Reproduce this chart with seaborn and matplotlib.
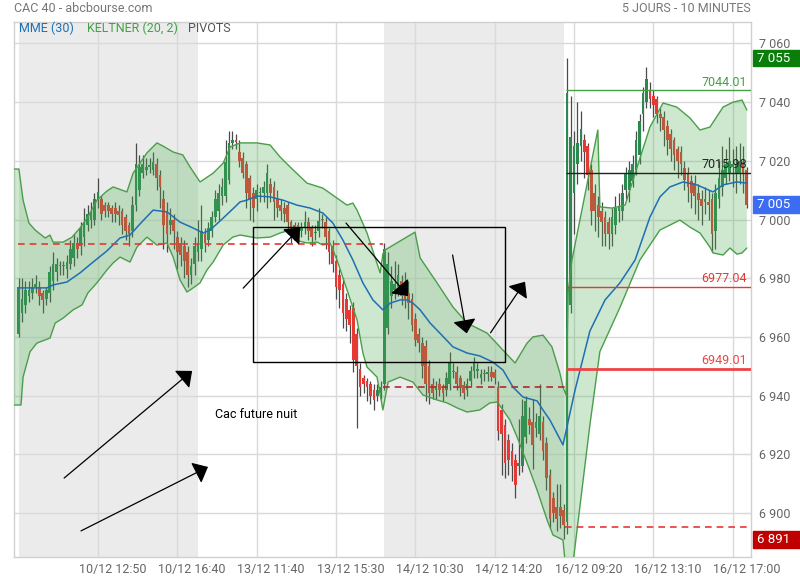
import numpy as np
import matplotlib
matplotlib.use("Agg")
import matplotlib.pyplot as plt
import matplotlib.transforms as mtransforms
from matplotlib.patches import Rectangle
from matplotlib.ticker import FuncFormatter
import seaborn as sns

# ======================
# DATA : CAC 40, 10 minute bars, 53 bars per session
# ======================
opens = [
    6961, 6968, 6971, 6974, 6975, 6977, 6977, 6975, 6973, 6975, 6979, 6982, 6984, 6984, 6983, 6985, 6987, 6992,
    6991, 6994, 6998, 7000, 7000, 7007, 7007, 7005, 7005, 7004, 7004, 7003, 7003, 7001, 6998, 6996, 7005, 7010,
    7016, 7017, 7018, 7017, 7019, 7015, 7007, 7003, 6998, 7000, 6994, 6992, 6991, 6989, 6981, 6985, 6989,
    6990, 6995, 6993, 6996, 7001, 7003, 7008, 7008, 7013.5, 7026, 7027, 7023, 7021, 7019, 7014, 7009, 7007, 7009,
    7009, 7009, 7012, 7011, 7007, 7005, 7004, 7005, 6999, 6998, 6998, 6996, 6997, 6999, 6997, 6995.5, 6996, 7000,
    6999, 6996, 6991, 6986, 6981, 6978, 6973, 6969, 6970, 6961, 6949, 6946, 6945, 6944, 6942, 6940, 6941,
    6944, 6963, 6974, 6976, 6977, 6979, 6976, 6975, 6973, 6966, 6961, 6958, 6957, 6950, 6944, 6942, 6944, 6943,
    6942, 6944, 6948, 6948, 6946, 6943.5, 6942, 6945, 6948.5, 6948.5, 6946, 6947.4, 6947.5, 6948, 6948, 6943, 6935, 6930,
    6925, 6921, 6918, 6916, 6916, 6926, 6932, 6931, 6929, 6927, 6931, 6924, 6913, 6905, 6902, 6902, 6901,
    6897, 6971, 7009, 7019, 7025, 7027, 7025, 7017, 7009, 7005, 7003, 7001, 6999, 6995, 6998, 7003, 7003, 7010,
    7010, 7013, 7017, 7022, 7036, 7040, 7044, 7042, 7041, 7036, 7035, 7032, 7029, 7027, 7024, 7023, 7017.5, 7016,
    7013, 7012.5, 7009, 7007, 7006, 7006, 7007, 6996, 7007, 7011, 7014, 7016, 7018, 7016, 7016, 7019, 7017,
]
highs = [
    6980, 6980, 6979, 6979, 6980, 6981, 6979, 6976, 6977, 6984, 6989, 6987, 6986, 6986, 6988, 6993, 6995, 6994,
    6999, 7004, 7005, 7006, 7009, 7014, 7008, 7006, 7006, 7005, 7006, 7005, 7004, 7002, 6999, 7008, 7026, 7022,
    7022, 7021, 7021, 7023, 7021, 7017, 7010, 7006, 7004, 7002, 6996, 6994, 6993, 6991, 6987, 6994, 7000,
    7005, 6997, 6999, 7003, 7010, 7012, 7014, 7027, 7030, 7030, 7029, 7027, 7023, 7020, 7015, 7011, 7012, 7011,
    7013, 7019, 7014, 7013, 7010, 7007, 7006, 7006, 7000, 6999, 6999, 6999, 7003, 7001, 6998, 6998, 7004, 7002,
    7001, 6997, 6993, 6988, 6983, 6980, 6975, 6971, 6972, 6963, 6951, 6947, 6946, 6945, 6944, 6944, 6945,
    6992, 6989, 6984, 6986, 6985, 6981, 6982, 6979, 6975, 6968, 6963, 6960, 6959, 6952, 6946, 6945, 6946, 6944,
    6948, 6955, 6951, 6950, 6947, 6945, 6946, 6950, 6953, 6951, 6949, 6949, 6950, 6950, 6949, 6945, 6937, 6932,
    6927, 6924, 6920, 6932, 6939, 6940, 6936, 6939, 6934, 6944, 6933, 6926, 6915, 6907, 6910, 6910, 6903,
    7055, 7042, 7030, 7040, 7037, 7029, 7026, 7019, 7012, 7008, 7006, 7003, 7001, 7004, 7008, 7009, 7012, 7018,
    7020, 7022, 7030, 7036, 7045, 7052, 7047, 7044, 7042, 7038, 7037, 7034, 7031, 7028, 7025, 7025, 7020, 7018,
    7015, 7015, 7012, 7010, 7011, 7010, 7009, 7012, 7020, 7025, 7024, 7028, 7024, 7025, 7026, 7025, 7018,
]
lows = [
    6960, 6965, 6968, 6972, 6973, 6975, 6971, 6968, 6971, 6972, 6976, 6979, 6981, 6981, 6980, 6983, 6984, 6987,
    6988, 6991, 6996, 6997, 6998, 7004, 7000, 7001, 7001, 6999, 6999, 6998, 6995, 6993, 6991, 6994, 7003, 7008,
    7014, 7015, 7016, 7015, 7010, 7004, 6990, 6989, 6995, 6990, 6983, 6984, 6980, 6977, 6978, 6981, 6986,
    6986, 6989, 6991, 6994, 6999, 7000, 7005, 7006, 7012, 7024, 7024, 7018, 7014, 7004, 7000, 6999, 7003, 7006,
    7006, 7004, 7006, 7000, 7001, 7000, 6999, 6995, 6992, 6993, 6992, 6994, 6995, 6993, 6991, 6993, 6994, 6997,
    6990, 6985, 6982, 6973, 6970, 6963, 6962, 6958, 6948, 6929, 6940, 6941, 6938, 6937, 6935, 6938, 6939,
    6942, 6961, 6970, 6973, 6974, 6971, 6970, 6966, 6962, 6957, 6955, 6946, 6938, 6937, 6939, 6939, 6940, 6938,
    6940, 6942, 6946, 6942, 6940, 6939, 6940, 6943, 6946, 6946, 6944, 6945, 6945, 6945, 6944, 6925, 6913, 6912,
    6913, 6911, 6905, 6913, 6914, 6924, 6927, 6915, 6926, 6925, 6918, 6908, 6895, 6897, 6894, 6895, 6891,
    6893, 6968, 6995, 7012, 7020, 7014, 7010, 6998, 6996, 6994, 6991, 6991, 6990, 6991, 6995, 6999, 7000, 7007,
    7006, 7011, 7015, 7019, 7030, 7038, 7038, 7035, 7033, 7030, 7025, 7022, 7020, 7017, 7014, 7015, 7010, 7006,
    7004, 7002, 7000, 6998, 7002, 7000, 6989, 6990, 7004, 7008, 7012, 7013, 7011, 7009, 7012, 7009, 7004,
]
closes = [
    6977, 6973, 6976, 6976, 6977, 6978, 6974, 6972.5, 6976, 6982, 6985, 6985, 6984.3, 6984.5, 6985.5, 6990, 6992, 6990,
    6997, 6999, 7002, 7002.5, 7007, 7009.5, 7002, 7003, 7003, 7002, 7002, 7001.5, 6998, 6996, 6995, 7005, 7019, 7018,
    7019, 7018, 7018.5, 7019.5, 7014, 7011, 6998, 6995, 7000, 6996, 6989, 6988, 6986, 6981, 6984, 6991, 6992,
    6996, 6992, 6997, 7001, 7007, 7009, 7011, 7019.5, 7026, 7027, 7026.5, 7020, 7016, 7009, 7006.5, 7004, 7010, 7009.5,
    7011, 7016, 7009, 7006, 7004, 7003, 7002, 6999, 6996, 6996, 6995, 6997.5, 6999, 6996, 6994, 6995.7, 6999.5, 6999.7,
    6994, 6989, 6985, 6977, 6976, 6968, 6966, 6964, 6952, 6950, 6943, 6944, 6943, 6940, 6938.5, 6942, 6943,
    6990, 6985, 6979, 6978, 6981, 6974, 6973, 6971.5, 6964, 6959, 6958, 6950, 6944, 6941, 6941, 6943, 6942, 6941,
    6946, 6951, 6948.5, 6944, 6942.5, 6941, 6944, 6948.5, 6951, 6948.8, 6947.5, 6947.2, 6947.7, 6946.5, 6946, 6928, 6927, 6917,
    6918, 6916, 6909.5, 6917, 6933, 6938, 6930, 6923, 6931, 6933, 6921, 6912, 6898, 6900, 6898, 6899, 6896,
    7043, 7028, 7025, 7026, 7031, 7023, 7015, 7003, 7003, 7001, 6999, 6995, 6995, 7001, 7004, 7004.5, 7009, 7016,
    7017, 7019, 7027, 7033.5, 7043, 7048, 7041, 7039, 7036, 7034.5, 7030.5, 7027, 7024, 7022, 7020, 7019, 7013.5, 7011,
    7009, 7008, 7006.5, 7004.5, 7007, 7005, 6995, 7009, 7014, 7017, 7019, 7020, 7019, 7019, 7020, 7016, 7005,
]

# MME (30) (bar index, price)
ema_x = [-0.2, 8.2, 10.0, 14.0, 17.8, 21.6, 25.6, 29.4, 32.3, 35.2, 39.0, 43.0, 46.8, 50.6, 53.5, 55.5, 58.4, 62.1,
         64.2, 66.2, 69.1, 72.9, 76.6, 80.7, 84.5, 88.2, 91.1, 94.0, 96.9, 99.8, 102.7, 105.6, 107.7, 110.6, 112.6,
         114.3, 116.4, 119.3, 122.1, 125.9, 130.0, 133.7, 137.5, 140.4, 143.3, 146.2, 150.3, 152.0, 154.0, 157.8,
         161.3, 165.6, 170.0, 174.3, 178.7, 183.0, 185.9, 188.8, 192.6, 196.6, 201.3, 204.2, 208.2, 211.1]
ema_v = [6976.7, 6976.7, 6977.7, 6978.7, 6981.8, 6985.5, 6989.3, 6993.7, 6994.7, 6998.5, 7003.2, 7002.6, 6999.1,
         6997.1, 6995.4, 6996.4, 6999.5, 7003.6, 7006.0, 7006.6, 7008.0, 7007.7, 7006.6, 7004.9, 7003.9, 7002.2,
         6998.8, 6993.0, 6986.2, 6978.4, 6972.6, 6969.2, 6971.5, 6972.6, 6972.6, 6971.5, 6969.2, 6964.7, 6961.3,
         6956.6, 6954.5, 6953.5, 6951.4, 6948.7, 6942.9, 6939.5, 6938.2, 6935.1, 6931.7, 6923.2, 6941.9, 6962.0,
         6972.6, 6978.4, 6986.2, 7000.8, 7007.7, 7011.1, 7012.8, 7011.8, 7009.4, 7011.8, 7012.8, 7012.4]

# KELTNER (20, 2) upper and lower bands
kup_x = [-1.3, 0.1, 1.3, 3.0, 4.8, 7.7, 9.1, 10.0, 12.9, 15.5, 17.8, 20.1, 22.7, 25.6, 27.4, 31.4, 33.2, 37.2, 40.1,
         41.9, 44.8, 47.6, 49.7, 52.6, 56.4, 59.3, 61.3, 64.2, 69.1, 72.9, 75.8, 78.7, 83.6, 88.2, 92.3, 95.2, 96.9,
         98.1, 101.0, 104.8, 105.6, 106.2, 114.9, 116.4, 121.3, 125.9, 130.0, 135.8, 140.4, 143.9, 147.4, 149.1,
         152.0, 154.6, 156.9, 157.8, 158.7, 159.3, 160.4, 167.9, 168.5, 172.0, 175.8, 179.3, 183.0, 186.8, 190.8,
         194.6, 197.5, 200.4, 204.2, 207.1, 209.7, 211.1]
kup_v = [7017.2, 7017.2, 7006.6, 6998.8, 6996.4, 6993.7, 6994.7, 6992.3, 6992.3, 6994.0, 6997.1, 7000.9, 7006.6,
         7009.7, 7011.1, 7009.4, 7015.8, 7022.7, 7026.1, 7025.0, 7023.0, 7022.0, 7017.9, 7012.8, 7015.8, 7019.2,
         7024.7, 7026.1, 7026.1, 7025.4, 7021.3, 7017.9, 7012.4, 7010.7, 7007.3, 7004.9, 7005.6, 7003.2, 6995.4,
         6981.8, 6988.3, 6989.6, 6995.7, 6986.9, 6978.4, 6970.2, 6964.7, 6961.3, 6955.5, 6951.1, 6957.9, 6960.0,
         6960.6, 6956.6, 6947.7, 6942.9, 6940.2, 6975.0, 6986.2, 7030.5, 7004.3, 7003.9, 7004.9, 7017.9, 7031.5,
         7039.7, 7038.3, 7034.6, 7030.5, 7031.5, 7038.3, 7040.0, 7040.7, 7037.3]
klo_x = [-1.3, 0.7, 1.3, 3.3, 5.3, 9.1, 10.6, 12.9, 15.8, 18.4, 20.1, 22.7, 25.6, 27.4, 29.4, 32.3, 34.3, 37.2, 40.1,
         43.0, 44.8, 46.8, 48.8, 50.6, 52.6, 54.6, 56.4, 59.3, 62.1, 64.2, 69.1, 72.9, 75.8, 78.7, 80.1, 83.6, 86.5,
         88.2, 90.3, 92.3, 95.2, 98.1, 99.8, 101.0, 103.9, 105.6, 107.1, 110.6, 114.3, 117.2, 121.3, 124.2, 127.1,
         130.0, 133.7, 136.6, 138.7, 140.4, 142.4, 144.5, 147.4, 150.3, 153.2, 154.9, 157.8, 158.7, 160.4, 165.6,
         168.5, 174.3, 180.1, 185.9, 191.7, 194.6, 197.5, 200.4, 201.3, 204.2, 206.2, 208.2, 209.7, 211.1]
klo_v = [6936.8, 6936.8, 6946.3, 6954.9, 6957.9, 6959.6, 6964.7, 6966.4, 6969.2, 6970.9, 6975.0, 6978.4, 6982.8,
         6985.2, 6987.2, 6985.5, 6990.6, 6994.0, 6991.3, 6992.0, 6987.2, 6979.4, 6975.3, 6976.7, 6978.4, 6982.8,
         6985.5, 6991.3, 6994.0, 6994.7, 6993.7, 6994.0, 6995.4, 6996.4, 6993.0, 6992.0, 6992.3, 6991.3, 6992.0,
         6986.2, 6976.0, 6965.8, 6954.5, 6949.7, 6946.3, 6935.1, 6944.6, 6946.3, 6944.6, 6940.2, 6938.5, 6937.5,
         6935.8, 6934.4, 6935.1, 6937.5, 6937.8, 6935.1, 6931.7, 6925.9, 6917.0, 6907.8, 6897.6, 6892.5, 6890.8,
         6880.0, 6880.0, 6930.0, 6955.0, 6970.0, 6986.2, 6996.4, 6999.8, 6997.4, 6995.4, 6990.6, 6988.6, 6987.9,
         6990.3, 6988.2, 6988.6, 6990.3]

# pivots (value, first bar, last bar)
pivot_values = [6991.5, 6942.9, 6895.3]
pivot_from = [-0.2, 105.5, 158.5]
pivot_to = [105.5, 158.5, 211.5]
level_values = [7044.01, 7015.98, 6977.04, 6949.01]
level_from = 158.8

# right axis markers
marker_values = [7055, 7005, 6891]

# sessions shaded in grey (first bar, last bar)
shaded_sessions = [(0, 52), (106, 158)]

# time axis
grid_bars = [23, 46, 69, 92, 115, 138, 161, 184, 207]
time_labels = ["10/12 12:50", "10/12 16:40", "13/12 11:40", "13/12 15:30", "14/12 10:30",
               "14/12 14:20", "16/12 09:20", "16/12 13:10", "16/12 17:00"]
price_ticks = [6900, 6920, 6940, 6960, 6980, 7000, 7020, 7040, 7060]

# drawings made on the chart (tail bar, tail price, tip bar, tip price)
arrows = [(65.1, 6976.6, 81.6, 6997.3), (94.9, 6998.8, 112.9, 6973.9), (125.8, 6987.9, 129.9, 6961.2),
          (136.8, 6961.4, 146.8, 6978.8), (13.2, 6911.9, 50.3, 6948.4), (18.1, 6893.9, 54.9, 6915.7)]
box_bars = (68.0, 141.1)
box_prices = (6951.3, 6997.3)
note_text = "Cac future nuit"
note_pos = (56.9, 6933.7)

# ======================
# STYLE
# ======================
sns.set_theme(style="white")
plt.rcParams['font.family'] = ['Roboto', 'DejaVu Sans']

GREEN = "#2c8750"
RED = "#e53935"
BAND = "#4caf50"
BAND_EDGE = "#4a9e4a"
BLUE = "#1f6fb5"

fig = plt.figure(figsize=(8, 5.8), dpi=100)
ax = fig.add_axes([14 / 800, 23 / 580, 737 / 800, 535 / 580])
ax.set_facecolor("white")

o = np.array(opens)
h = np.array(highs)
l = np.array(lows)
c = np.array(closes)
x = np.arange(len(c))

# sessions and grid
for s, e in shaded_sessions:
    ax.axvspan(s, e, color="#ebebeb", lw=0, zorder=0)
for g in grid_bars:
    ax.axvline(g, color="#d9d9d9", lw=1, zorder=0.5)
ax.set_yticks(price_ticks)
ax.grid(axis="y", color="#d9d9d9", lw=1)
ax.set_axisbelow(True)

# ======================
# CANDLES
# ======================
colors = np.where(c >= o, GREEN, RED)
ax.vlines(x, l, h, color="#4a4a4a", lw=0.9, zorder=2)
ax.bar(x, np.maximum(np.abs(c - o), 0.4), bottom=np.minimum(o, c), width=0.78,
       color=colors, lw=0, zorder=2.2)

# ======================
# KELTNER BAND (drawn over the candles)
# ======================
poly_x = np.r_[kup_x, klo_x[::-1]]
poly_v = np.r_[kup_v, klo_v[::-1]]
ax.fill(poly_x, poly_v, color=BAND, alpha=0.28, lw=0, zorder=3)
ax.plot(kup_x, kup_v, color=BAND_EDGE, lw=1, zorder=3.2)
ax.plot(klo_x, klo_v, color=BAND_EDGE, lw=1, zorder=3.2)

# MME
sns.lineplot(x=ema_x, y=ema_v, ax=ax, color=BLUE, lw=1.1, sort=False, estimator=None, zorder=4)

# ======================
# PIVOTS
# ======================
ax.hlines(pivot_values[0], pivot_from[0], pivot_to[0], color=RED, lw=1.2, ls=(0, (4, 3)), zorder=4)
ax.hlines(pivot_values[1], pivot_from[1], pivot_to[1], color="#b02a2a", lw=1.2, ls=(0, (4, 3)), zorder=4)
ax.hlines(pivot_values[2], pivot_from[2], pivot_to[2], color=RED, lw=1.2, ls=(0, (4, 3)), zorder=4)

x_right = 212.3
level_colors = ["#43a047", "#222222", RED, "#ef4444"]
level_widths = [1, 1, 1, 2]
for v, col, w in zip(level_values, level_colors, level_widths):
    ax.hlines(v, level_from, x_right, color=col, lw=w, zorder=4.5)
    ax.text(211.2, v + 0.6, f"{v:.2f}", color=col, fontsize=9, ha="right", va="bottom", zorder=4.6)

# ======================
# DRAWINGS
# ======================
ax.add_patch(Rectangle((box_bars[0], box_prices[0]), box_bars[1] - box_bars[0],
                       box_prices[1] - box_prices[0], fill=False, ec="black", lw=1, zorder=5))
for tx, tv, hx, hv in arrows:
    ax.annotate("", xy=(hx, hv), xytext=(tx, tv),
                arrowprops=dict(arrowstyle="-|>,head_length=0.7,head_width=0.6", color="black",
                                lw=0.9, shrinkA=0, shrinkB=0), zorder=5)
ax.text(note_pos[0], note_pos[1], note_text, fontsize=9, color="black", ha="left", va="center", zorder=5)

# ======================
# AXES
# ======================
ax.set_xlim(-1.33, x_right)
ax.set_ylim(6885.0, 7067.3)
ax.yaxis.tick_right()
ax.yaxis.set_major_formatter(FuncFormatter(lambda v, p: f"{int(v):,}".replace(",", " ")))
ax.tick_params(axis="y", length=0, pad=6, labelsize=9, labelcolor="#666666")
ax.set_xticks([g + 4.2 for g in grid_bars])
ax.set_xticklabels(time_labels)
ax.tick_params(axis="x", length=0, pad=4, labelsize=9, labelcolor="#666666")
ax.set_xlabel("")
ax.set_ylabel("")
for sp in ax.spines.values():
    sp.set_color("#d0d0d0")
    sp.set_linewidth(1)

# right side value markers
trans = mtransforms.blended_transform_factory(fig.transFigure, ax.transData)
marker_colors = ["#0b7d0b", "#3c6cf2", "#c00000"]
for v, col in zip(marker_values, marker_colors):
    ax.add_patch(Rectangle((753 / 800, v - 2.85), 47 / 800, 5.7, transform=trans, color=col,
                           clip_on=False, zorder=10))
    ax.text(757 / 800, v, f"{v:,}".replace(",", " "), transform=trans, color="white", fontsize=9.5,
            ha="left", va="center", zorder=11, clip_on=False)

# header and legend
fig.text(14 / 800, 1 - 8 / 580, "CAC 40 - abcbourse.com", color="#777777", fontsize=9, ha="left", va="center")
fig.text(751 / 800, 1 - 8 / 580, "5 JOURS - 10 MINUTES", color="#777777", fontsize=9, ha="right", va="center")
fig.text(19 / 800, 1 - 28 / 580, "MME (30)", color=BLUE, fontsize=9, ha="left", va="center")
fig.text(87 / 800, 1 - 28 / 580, "KELTNER (20, 2)", color="#43a047", fontsize=9, ha="left", va="center")
fig.text(188 / 800, 1 - 28 / 580, "PIVOTS", color="#555555", fontsize=9, ha="left", va="center")

fig.savefig("out.png", dpi=100, facecolor="white")
